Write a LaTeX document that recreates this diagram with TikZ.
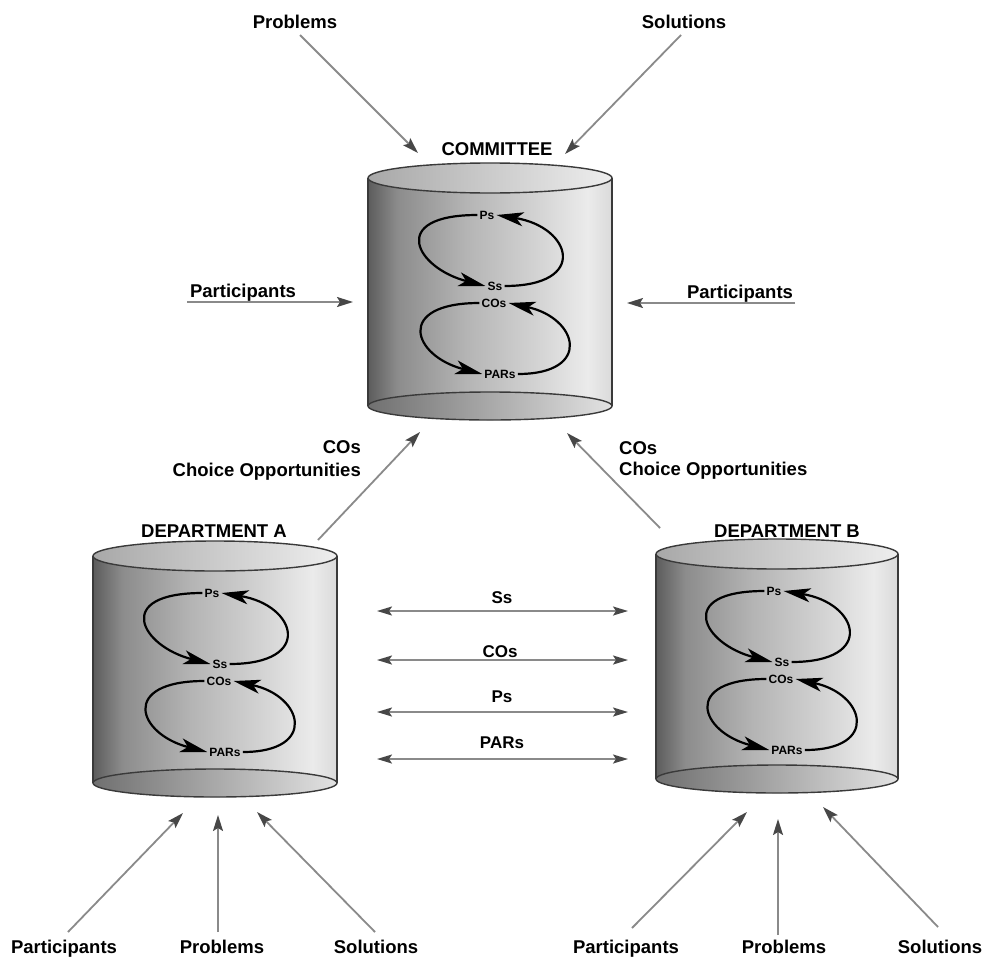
\documentclass[tikz,border=0pt]{standalone}
\usepackage{fontspec}
\setmainfont{Liberation Sans}
\usetikzlibrary{arrows.meta,calc}

\definecolor{feedline}{HTML}{8A8A8A}
\definecolor{feedtip}{HTML}{474747}
\definecolor{rimline}{HTML}{3A3A3A}
\definecolor{body0}{HTML}{5C5C5C}
\definecolor{body1}{HTML}{8C8C8C}
\definecolor{body2}{HTML}{B4B4B4}
\definecolor{body3}{HTML}{D4D4D4}
\definecolor{body4}{HTML}{EBEBEB}
\definecolor{body5}{HTML}{DADADA}
\definecolor{topL}{HTML}{A8A8A8}
\definecolor{topR}{HTML}{EEEEEE}
\definecolor{botL}{HTML}{707070}
\definecolor{botR}{HTML}{E2E2E2}

\pgfdeclarehorizontalshading{cylbody}{100bp}{%
  color(0bp)=(body0); color(25bp)=(body0); color(31bp)=(body1);
  color(45bp)=(body2); color(60bp)=(body3); color(70bp)=(body4);
  color(75bp)=(body5); color(100bp)=(body5)}

\tikzset{
  lbl/.style={font=\fontsize{18.5}{21}\selectfont\bfseries, inner sep=1pt},
  midlbl/.style={font=\fontsize{17}{19}\selectfont\bfseries, inner sep=1pt},
  inlbl/.style={font=\fontsize{12}{13}\selectfont\bfseries, inner sep=2pt},
  feed/.style={draw=feedline, line width=1.8pt,
    -{Stealth[length=16pt,width=10pt,inset=3pt,color=feedtip]}},
  twoway/.style={draw=feedline, line width=1.8pt,
    {Stealth[length=15pt,width=9pt,inset=3pt,color=feedtip]}-{Stealth[length=15pt,width=9pt,inset=3pt,color=feedtip]}},
  cyclearrow/.style={draw=black, line width=2.2pt,
    -{Stealth[length=27pt,width=14pt,inset=7pt]}},
  rim/.style={draw=rimline, line width=1.4pt}
}

% #1 name, #2 centre x, #3 top y, #4 body height, #5 half width
\newcommand\drawcyl[5]{%
  \begin{scope}[shift={(#2,#3)}]
    \shade[shading=cylbody] (-#5,0) -- (-#5,#4)
      arc[start angle=180,end angle=360,x radius=#5pt,y radius=14pt]
      -- (#5,0) arc[start angle=0,end angle=180,x radius=#5pt,y radius=15pt] -- cycle;
    \shadedraw[rim,left color=botL,right color=botR] (0,#4) ellipse[x radius=#5pt,y radius=14pt];
    \shadedraw[rim,left color=topL,right color=topR] (0,0) ellipse[x radius=#5pt,y radius=15pt];
    \draw[rim] (-#5,0) -- (-#5,#4) (#5,0) -- (#5,#4);
    \node[inlbl] (#1-ps)  at (-3,37)  {Ps};
    \node[inlbl] (#1-ss)  at (5,108)  {Ss};
    \node[inlbl] (#1-co)  at (4,125)  {COs};
    \node[inlbl] (#1-par) at (10,196) {PARs};
    \draw[cyclearrow] (#1-ps.west) .. controls +(-90,0) and +(-70,-18) .. (#1-ss.west);
    \draw[cyclearrow] (#1-ss.east) .. controls +(85,0) and +(75,12) .. (#1-ps.east);
    \draw[cyclearrow] (#1-co.west) .. controls +(-85,0) and +(-70,-18) .. (#1-par.west);
    \draw[cyclearrow] (#1-par.east) .. controls +(75,0) and +(70,15) .. (#1-co.east);
  \end{scope}}

\begin{document}
\begin{tikzpicture}[x=1pt,y=-1pt]
  \useasboundingbox (0,0) rectangle (984,958);

  % the three garbage cans
  \drawcyl{cmt}{490}{178}{228}{122}
  \drawcyl{depa}{215}{556}{227}{122}
  \drawcyl{depb}{777}{554}{225}{121}

  % titles
  \node[lbl,anchor=base] (cmt-title)  at (497,155) {COMMITTEE};
  \node[lbl,anchor=base] (depa-title) at (214,537) {DEPARTMENT A};
  \node[lbl,anchor=base] (depb-title) at (787,537) {DEPARTMENT B};

  % streams into the committee
  \node[lbl,anchor=base] (prob-top) at (295,29) {Problems};
  \node[lbl,anchor=base] (sol-top)  at (684,29) {Solutions};
  \node[lbl,anchor=base] (part-l)   at (243,297) {Participants};
  \node[lbl,anchor=base] (part-r)   at (740,298) {Participants};

  \coordinate (prob-top-foot) at (300,35);
  \coordinate (sol-top-foot)  at (681,35);
  \coordinate (part-l-foot)   at (187,302);
  \coordinate (part-r-foot)   at (795,303);
  \coordinate (cmt-in-prob)   at (418,153);
  \coordinate (cmt-in-sol)    at (565,154);
  \coordinate (cmt-in-pl)     at (353,302);
  \coordinate (cmt-in-pr)     at (627,303);
  \draw[feed] (prob-top-foot) -- (cmt-in-prob);
  \draw[feed] (sol-top-foot)  -- (cmt-in-sol);
  \draw[feed] (part-l-foot)   -- (cmt-in-pl);
  \draw[feed] (part-r-foot)   -- (cmt-in-pr);

  % choice opportunities passed up from the departments
  \node[lbl,anchor=base east] (co-l1) at (362,453) {COs};
  \node[lbl,anchor=base east] (co-l2) at (362,476) {Choice Opportunities};
  \node[lbl,anchor=base west] (co-r1) at (618,454) {COs};
  \node[lbl,anchor=base west] (co-r2) at (618,475) {Choice Opportunities};
  \coordinate (depa-out)   at (318,540);
  \coordinate (depb-out)   at (660,528);
  \coordinate (cmt-in-coa) at (420,432);
  \coordinate (cmt-in-cob) at (567,433);
  \draw[feed] (depa-out) -- (cmt-in-coa);
  \draw[feed] (depb-out) -- (cmt-in-cob);

  % exchanges between the departments
  \foreach \nm/\yy in {ss/611, co/660, ps/712, par/759}{
    \coordinate (xa-\nm) at (377,\yy);
    \coordinate (xb-\nm) at (628,\yy);
    \draw[twoway] (xa-\nm) -- (xb-\nm);
  }
  \node[midlbl,anchor=base] (x-ss)  at (502,603) {Ss};
  \node[midlbl,anchor=base] (x-co)  at (500,657) {COs};
  \node[midlbl,anchor=base] (x-ps)  at (502,702) {Ps};
  \node[midlbl,anchor=base] (x-par) at (502,748) {PARs};

  % streams into department A
  \node[lbl,anchor=base] (depa-part) at (64,953)  {Participants};
  \node[lbl,anchor=base] (depa-prob) at (222,953) {Problems};
  \node[lbl,anchor=base] (depa-sol)  at (376,953) {Solutions};
  \coordinate (depa-part-foot) at (68,932);
  \coordinate (depa-prob-foot) at (218,932);
  \coordinate (depa-sol-foot)  at (375,932);
  \coordinate (depa-in-part) at (183,813);
  \coordinate (depa-in-prob) at (218,815);
  \coordinate (depa-in-sol)  at (257,812);
  \draw[feed] (depa-part-foot) -- (depa-in-part);
  \draw[feed] (depa-prob-foot) -- (depa-in-prob);
  \draw[feed] (depa-sol-foot)  -- (depa-in-sol);

  % streams into department B
  \node[lbl,anchor=base] (depb-part) at (626,953) {Participants};
  \node[lbl,anchor=base] (depb-prob) at (784,953) {Problems};
  \node[lbl,anchor=base] (depb-sol)  at (940,953) {Solutions};
  \coordinate (depb-part-foot) at (632,928);
  \coordinate (depb-prob-foot) at (778,935);
  \coordinate (depb-sol-foot)  at (938,927);
  \coordinate (depb-in-part) at (747,812);
  \coordinate (depb-in-prob) at (778,819);
  \coordinate (depb-in-sol)  at (823,807);
  \draw[feed] (depb-part-foot) -- (depb-in-part);
  \draw[feed] (depb-prob-foot) -- (depb-in-prob);
  \draw[feed] (depb-sol-foot)  -- (depb-in-sol);
\end{tikzpicture}
\end{document}
